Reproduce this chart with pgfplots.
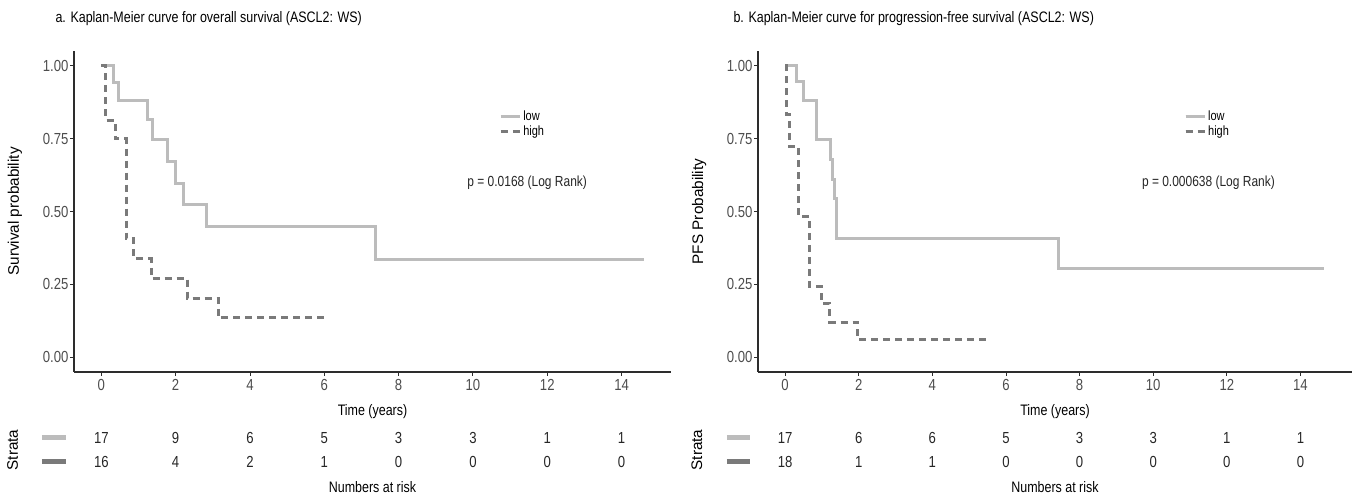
\documentclass[border=0pt]{standalone}
\usepackage{fontspec}
\setmainfont{Liberation Sans}[FakeStretch=0.82]
\newfontfamily\plainsans{Liberation Sans}
\usepackage{pgfplots}
\pgfplotsset{compat=1.18}

\definecolor{lowcol}{RGB}{188,188,188}
\definecolor{highcol}{RGB}{122,122,122}
\definecolor{tickcol}{RGB}{77,77,77}
\definecolor{axcol}{RGB}{45,45,45}

\newcommand{\fsTitle}{\fontsize{15.2}{17}\selectfont}
\newcommand{\fsTick}{\fontsize{16}{18}\selectfont}
\newcommand{\fsLab}{\fontsize{15.2}{17}\selectfont}
\newcommand{\fsRot}{\plainsans\fontsize{15.3}{17}\selectfont}
\newcommand{\fsLeg}{\fontsize{13.4}{14}\selectfont}
\newcommand{\fsP}{\fontsize{14.6}{16}\selectfont}

\pgfplotsset{
  km/.style={
    scale only axis, width=597pt, height=321pt,
    xmin=-0.735, xmax=15.33, ymin=-0.05, ymax=1.05,
    axis lines=left, axis line style={-, line width=1.1pt, color=axcol},
    tick align=outside, major tick length=4pt,
    tick style={line width=0.9pt, color=axcol},
    xtick={0,2,...,14}, ytick={0,0.25,0.5,0.75,1},
    yticklabel style={xshift=2pt, /pgf/number format/.cd, fixed, fixed zerofill, precision=2},
    /pgf/number format/assume math mode=true,
    ticklabel style={font=\fsTick, text=tickcol},
    xlabel style={font=\fsLab, at={(axis description cs:0.5,0)}, anchor=center, yshift=-40pt},
    ylabel style={font=\fsRot, at={(axis description cs:-0.099,0.5)}, anchor=center},
    legend style={at={(axis description cs:0.707,0.826)}, anchor=north west,
      draw=none, fill=none, font=\fsLeg, row sep=0pt, cells={anchor=west}},
    legend image code/.code={\draw[#1] (0pt,0pt) -- (11pt,0pt); \path (0pt,0pt) -- (19pt,0pt);},
  },
  lowline/.style={const plot mark left, color=lowcol, line width=3pt},
  highline/.style={const plot mark left, color=highcol, line width=3pt, dash pattern=on 7pt off 5pt},
  risk/.style={
    scale only axis, width=597pt, height=48pt,
    xmin=-0.735, xmax=15.33, ymin=0.5, ymax=2.5,
    axis line style={draw=none}, tick style={draw=none},
    xtick=\empty, ytick=\empty, clip=false,
    xlabel style={font=\fsLab, at={(axis description cs:0.5,0)}, anchor=center, yshift=-13pt},
    ylabel style={font=\fsRot, at={(axis description cs:-0.103,0.5)}, anchor=center},
  },
  riskrow/.style={draw=none, nodes near coords, point meta=explicit symbolic,
    every node near coord/.append style={anchor=center, font=\fsTick, text=black!85}},
}

\begin{document}
\begin{tikzpicture}
\useasboundingbox (0,0) rectangle (1357pt,497pt);

% ---------- panel a ----------
\node[anchor=base west, font=\fsTitle] at (52pt,474pt) {a. Kaplan-Meier curve for overall survival (ASCL2: WS)};
\begin{axis}[km, at={(74pt,125pt)}, anchor=south west,
  xlabel={Time (years)}, ylabel={Survival probability}]
  \addplot[lowline] coordinates {(0,1) (0.32,0.941) (0.46,0.882) (1.23,0.815) (1.38,0.747)
    (1.77,0.672) (1.99,0.597) (2.22,0.523) (2.83,0.448) (7.38,0.336) (14.6,0.336)};
  \addlegendentry{low}
  \addplot[highline] coordinates {(0,1) (0.12,0.8125) (0.37,0.75) (0.67,0.406) (0.87,0.339)
    (1.34,0.271) (2.31,0.203) (3.14,0.136) (6.09,0.136)};
  \addlegendentry{high}
  \node[font=\fsP, text=black!85] at (axis cs:11.46,0.6) {p = 0.0168 (Log Rank)};
\end{axis}
\begin{axis}[risk, at={(74pt,23pt)}, anchor=south west,
  xlabel={Numbers at risk}, ylabel={Strata}]
  \addplot[line width=5pt, color=lowcol] coordinates {(-1.6,2) (-0.95,2)};
  \addplot[line width=5pt, color=highcol] coordinates {(-1.6,1) (-0.95,1)};
  \addplot[riskrow] table[meta=n] {
x y n
0 2 17
2 2 9
4 2 6
6 2 5
8 2 3
10 2 3
12 2 1
14 2 1
};
  \addplot[riskrow] table[meta=n] {
x y n
0 1 16
2 1 4
4 1 2
6 1 1
8 1 0
10 1 0
12 1 0
14 1 0
};
\end{axis}

% ---------- panel b ----------
\node[anchor=base west, font=\fsTitle] at (730pt,474pt) {b. Kaplan-Meier curve for progression-free survival (ASCL2: WS)};
\begin{axis}[km, at={(758pt,125pt)}, anchor=south west, width=594pt, xmax=15.4,
  xlabel={Time (years)}, ylabel={PFS Probability},
  legend style={at={(axis description cs:0.712,0.826)}}]
  \addplot[lowline] coordinates {(0,1) (0.31,0.944) (0.5,0.881) (0.85,0.747) (1.24,0.678)
    (1.28,0.61) (1.33,0.543) (1.40,0.406) (7.42,0.305) (14.65,0.305)};
  \addlegendentry{low}
  \addplot[highline] coordinates {(0,1) (0.04,0.833) (0.13,0.722) (0.36,0.484) (0.67,0.244)
    (0.99,0.185) (1.21,0.121) (1.96,0.062) (5.6,0.062)};
  \addlegendentry{high}
  \node[font=\fsP, text=black!85] at (axis cs:11.5,0.6) {p = 0.000638 (Log Rank)};
\end{axis}
\begin{axis}[risk, at={(758pt,23pt)}, anchor=south west, width=594pt, xmax=15.4,
  xlabel={Numbers at risk}, ylabel={Strata}]
  \addplot[line width=5pt, color=lowcol] coordinates {(-1.58,2) (-0.95,2)};
  \addplot[line width=5pt, color=highcol] coordinates {(-1.58,1) (-0.95,1)};
  \addplot[riskrow] table[meta=n] {
x y n
0 2 17
2 2 6
4 2 6
6 2 5
8 2 3
10 2 3
12 2 1
14 2 1
};
  \addplot[riskrow] table[meta=n] {
x y n
0 1 18
2 1 1
4 1 1
6 1 0
8 1 0
10 1 0
12 1 0
14 1 0
};
\end{axis}
\end{tikzpicture}
\end{document}
